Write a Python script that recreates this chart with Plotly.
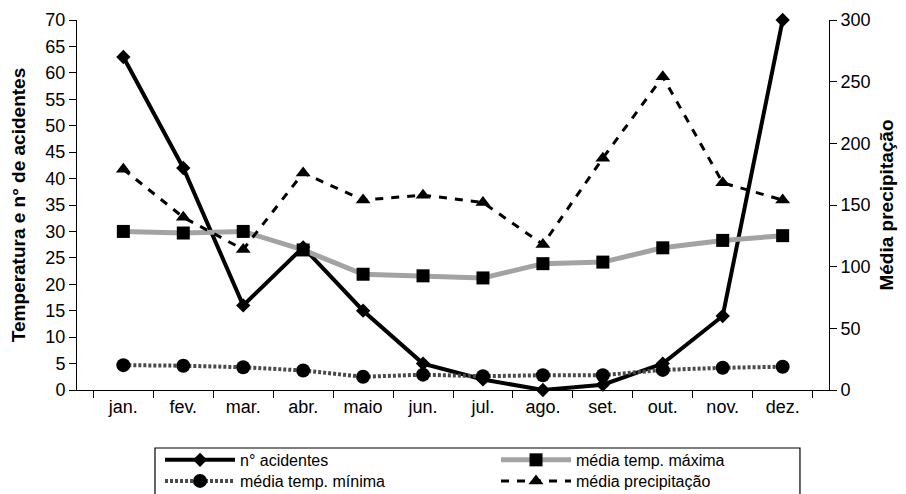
import plotly.graph_objects as go

months = ["jan.", "fev.", "mar.", "abr.", "maio", "jun.", "jul.", "ago.", "set.", "out.", "nov.", "dez."]
acidentes = [63, 42, 16, 27, 15, 5, 2, 0, 1, 5, 14, 70]
temp_max = [30, 29.7, 30, 26.5, 21.9, 21.6, 21.2, 23.9, 24.2, 26.9, 28.3, 29.2]
temp_min = [4.7, 4.6, 4.3, 3.7, 2.5, 2.9, 2.6, 2.8, 2.8, 3.8, 4.2, 4.4]
precip = [179, 140, 114, 176, 154, 158, 152, 118, 188, 254, 168, 154]

left_ticks = list(range(0, 71, 5))
right_ticks = list(range(0, 301, 50))

font = "Liberation Sans, Arial, sans-serif"

fig = go.Figure()
fig.add_trace(go.Scatter(
    x=months, y=acidentes, name="n° acidentes", mode="lines+markers",
    line=dict(color="black", width=4), legend="legend",
    marker=dict(symbol="diamond", size=11, color="black"), cliponaxis=False))
fig.add_trace(go.Scatter(
    x=months, y=temp_max, name="média temp. máxima", mode="lines+markers",
    line=dict(color="#a3a3a3", width=5), legend="legend",
    marker=dict(symbol="square", size=13, color="black"), cliponaxis=False))
fig.add_trace(go.Scatter(
    x=months, y=temp_min, name="média temp. mínima", mode="lines+markers",
    line=dict(color="#4a4a4a", width=4, dash="3px,2px"), legend="legend2",
    marker=dict(symbol="circle", size=14, color="black"), cliponaxis=False))
fig.add_trace(go.Scatter(
    x=months, y=precip, name="média precipitação", mode="lines+markers", yaxis="y2",
    line=dict(color="black", width=3, dash="8px,8px"), legend="legend2",
    marker=dict(symbol="triangle-up", size=13, color="black"), cliponaxis=False))

legend_common = dict(
    orientation="h", xanchor="left", yanchor="middle",
    borderwidth=0, bgcolor="rgba(0,0,0,0)",
    entrywidth=251, entrywidthmode="pixels",
    font=dict(family=font, size=16, color="black"),
    itemwidth=70,
)

fig.update_layout(
    width=898, height=486,
    margin=dict(l=69, r=77, t=12, b=104, autoexpand=False),
    paper_bgcolor="white", plot_bgcolor="white",
    font=dict(family=font, size=18, color="black"),
    showlegend=True,
    legend=dict(x=0.1104, y=-0.189, **legend_common),
    legend2=dict(x=0.1104, y=-0.246, **legend_common),
    shapes=[dict(type="rect", xref="paper", yref="paper",
                 x0=0.1037, x1=0.9614, y0=-0.1568, y1=-0.33,
                 line=dict(color="black", width=1.2), layer="below")],
    xaxis=dict(
        type="category", showline=True, linecolor="black", linewidth=1,
        ticks="outside", ticklen=7, tickcolor="black", tickson="boundaries",
        showgrid=False, zeroline=False,
        tickfont=dict(family=font, size=18),
    ),
    yaxis=dict(
        range=[0, 70], tickvals=left_ticks, showline=True, linecolor="black",
        linewidth=1, ticks="outside", ticklen=7, tickcolor="black",
        showgrid=False, zeroline=False,
        tickfont=dict(family=font, size=18),
        title=dict(text="<b>Temperatura e n° de acidentes</b>",
                   font=dict(family=font, size=19), standoff=18),
    ),
    yaxis2=dict(
        range=[0, 300], tickvals=right_ticks, overlaying="y", side="right",
        showline=True, linecolor="black", linewidth=1, ticks="outside",
        ticklen=7, tickcolor="black", showgrid=False, zeroline=False,
        tickfont=dict(family=font, size=18),
        title=dict(text="<b>Média precipitação</b>",
                   font=dict(family=font, size=19), standoff=10),
    ),
)

fig.write_html("out.html")
